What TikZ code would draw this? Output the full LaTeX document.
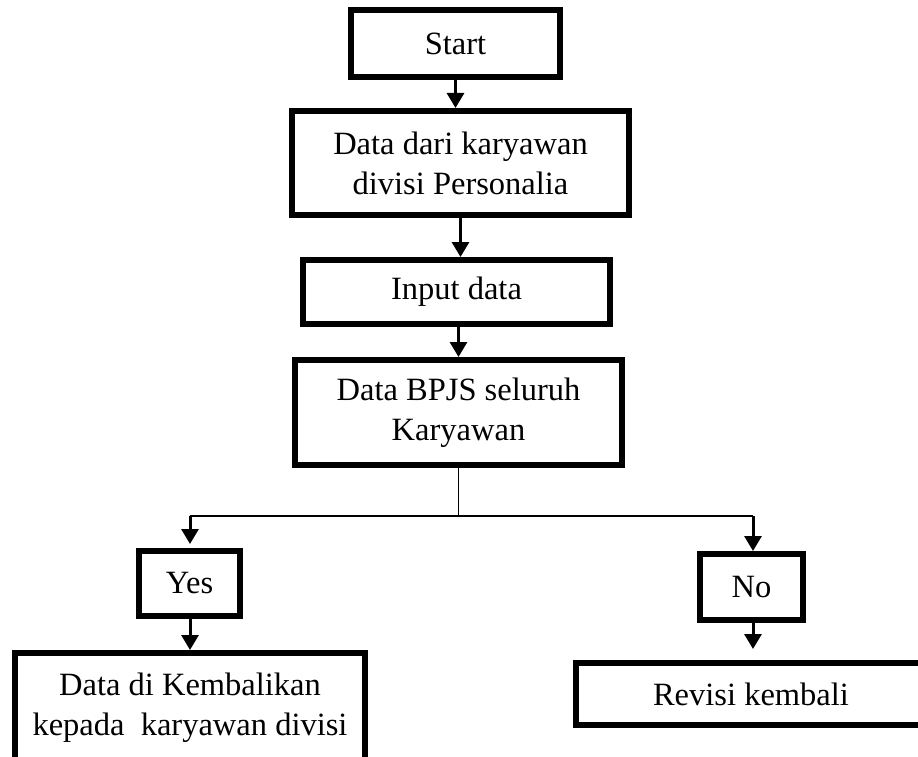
\documentclass[tikz,border=0pt]{standalone}
\usepackage{fontspec}
\setmainfont{Liberation Serif}
\usetikzlibrary{arrows.meta}
\begin{document}
\begin{tikzpicture}[x=1pt,y=-1pt,
  box/.style={draw, line width=6pt, rectangle, inner sep=0pt, align=center,
    font=\fontsize{32.5}{40}\selectfont},
  arr/.style={line width=3pt, -{Triangle[width=17pt,length=15pt]}},
  thinline/.style={line width=1.3pt}]
\clip (0,0) rectangle (918,757);
\fill[white] (0,0) rectangle (918,757);
\node[box, minimum width=209pt, minimum height=67pt] (start) at (455.5,43.5) {Start};
\node[box, minimum width=337pt, minimum height=104pt] (data) at (460.5,163) {Data dari karyawan\\divisi Personalia};
\node[box, minimum width=307pt, minimum height=64pt] (input) at (456.5,292) {Input data};
\node[box, minimum width=327pt, minimum height=105pt] (bpjs) at (458.5,412.5) {Data BPJS seluruh\\Karyawan};
\node[box, minimum width=101pt, minimum height=65pt] (yes) at (189.5,583.5) {Yes};
\node[box, minimum width=103pt, minimum height=66pt] (no) at (751.5,587) {No};
\node[box, minimum width=350pt, minimum height=110pt] (kemb) at (190,708) {Data di Kembalikan\\kepada\ \ karyawan divisi};
\node[box, minimum width=350pt, minimum height=62pt] (revisi) at (751,694) {Revisi kembali};
\coordinate (split) at (458.5,516);
\coordinate (sl) at (190,516);
\coordinate (sr) at (753,516);
\draw[arr] (start.south) -- (start.south |- data.north);
\draw[arr] (data.south) -- (data.south |- input.north);
\draw[arr] (bpjs.north |- input.south) -- (bpjs.north);
\draw[thinline] (bpjs.south) -- (split);
\draw[thinline] (sl) -- (sr);
\draw[arr, shorten >=4pt] (sl) -- (sl |- yes.north);
\draw[arr] (sr) -- (sr |- no.north);
\draw[arr] (yes.south -| sl) -- (sl |- kemb.north);
\draw[arr, shorten >=11pt] (no.south -| sr) -- (sr |- revisi.north);
\end{tikzpicture}
\end{document}
